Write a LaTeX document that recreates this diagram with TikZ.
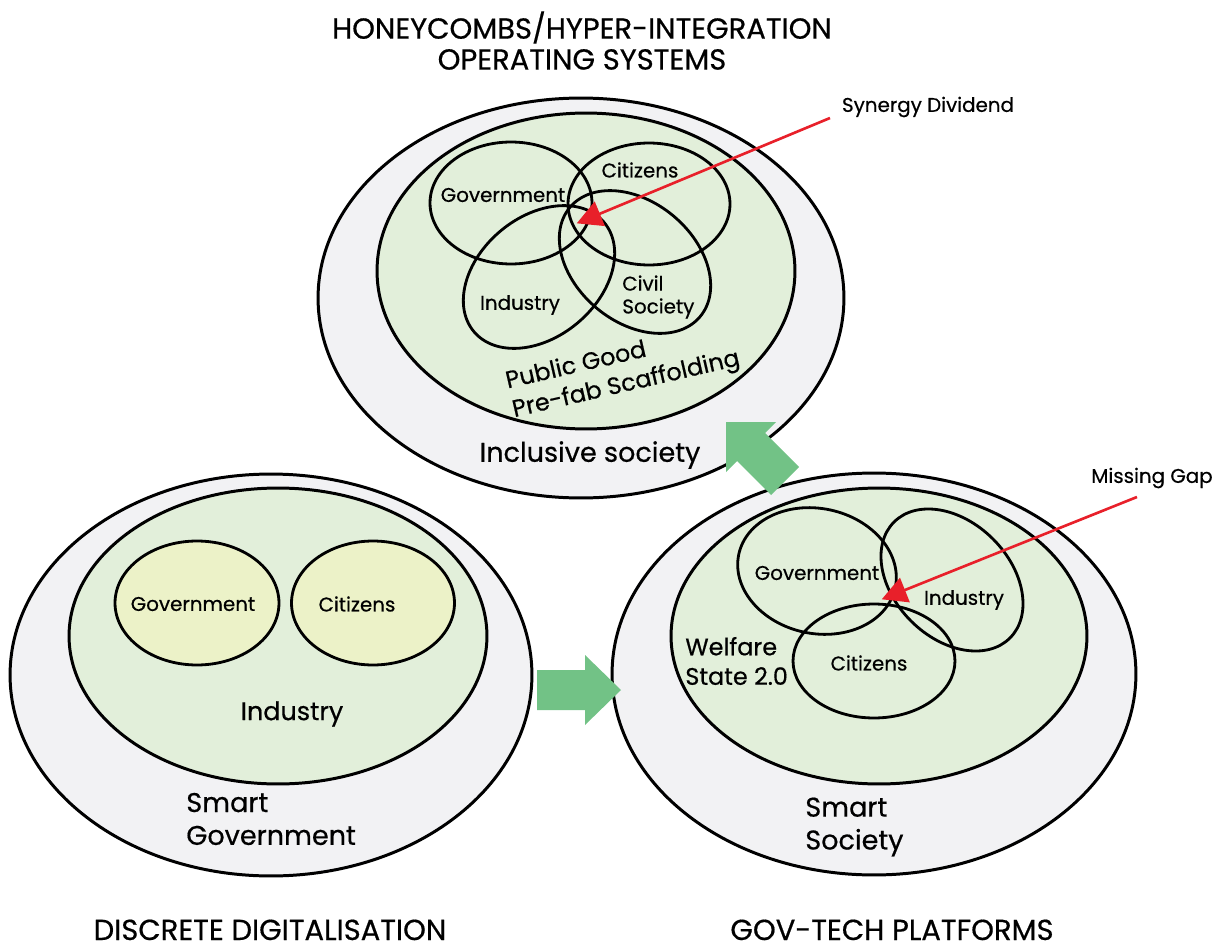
\documentclass[tikz,border=0pt]{standalone}
\usepackage{fontspec}
\setmainfont{Poppins}[FakeBold=0.5]
\usetikzlibrary{shapes.geometric,arrows.meta}
\definecolor{ringgray}{RGB}{242,242,244}
\definecolor{coregreen}{RGB}{226,239,218}
\definecolor{paleyellow}{RGB}{236,242,200}
\definecolor{flowgreen}{RGB}{114,194,134}
\definecolor{pointred}{RGB}{232,32,42}
\newcommand{\fs}[2]{\fontsize{#1}{#2}\selectfont}
\tikzset{
  ring/.style={ellipse, draw, line width=1.7pt, fill=ringgray, inner sep=0pt},
  core/.style={ellipse, draw, line width=1.7pt, fill=coregreen, inner sep=0pt},
  lobe/.style={ellipse, draw, line width=1.6pt, inner sep=0pt},
  heading/.style={font=\fs{16.5}{17.6}, align=center, inner sep=0pt},
  lbl/.style={font=\fs{11.3}{13}, inner sep=0pt},
  midlbl/.style={font=\fs{13.6}{16.8}, inner sep=0pt, align=left},
  biglbl/.style={font=\fs{15.4}{18.7}, inner sep=0pt, align=left},
  note/.style={font=\fs{11.3}{13}, inner sep=0pt},
  pointer/.style={draw=pointred, line width=1.5pt, -{Triangle[length=0.5cm,width=0.52cm]}, shorten >=-2pt},
  flow/.style={fill=flowgreen, draw=none}
}
\begin{document}
\begin{tikzpicture}[x=0.02cm,y=-0.02cm]
\useasboundingbox (0,0) rectangle (1225,943);

% ---------- top: honeycombs ----------
\node[ring, minimum width=10.52cm, minimum height=8.0cm] (topring) at (581,298) {};
\node[core, minimum width=8.36cm, minimum height=6.32cm] (topcore) at (586,271) {};
\node[lobe, minimum width=3.24cm, minimum height=2.44cm] (tgov) at (511,203) {};
\node[lobe, minimum width=3.24cm, minimum height=2.44cm] (tcit) at (649,204) {};
\node[lobe, minimum width=3.4cm, minimum height=2.4cm, rotate=40] (tind) at (539,277) {};
\node[lobe, minimum width=3.4cm, minimum height=2.4cm, rotate=-40] (tciv) at (635,262) {};
\node[lbl] (tgovt) at (503,195) {Government};
\node[lbl] (tcitt) at (640,170) {Citizens};
\node[lbl] (tindt) at (520,305) {Industry};
\node[lbl, align=left, anchor=west] (tcivt) at (622,297) {Civil\\Society};
\node[midlbl, rotate=13] (scaffold) at (623,371) {Public Good\\Pre-fab Scaffolding};
\node[biglbl] (inclusive) at (590,455) {Inclusive society};

% ---------- bottom left: discrete ----------
\node[ring, minimum width=10.44cm, minimum height=8.04cm] (blring) at (271,675) {};
\node[core, minimum width=8.36cm, minimum height=5.92cm] (blcore) at (278,636) {};
\node[lobe, fill=paleyellow, minimum width=3.28cm, minimum height=2.48cm] (bgov) at (197,603) {};
\node[lobe, fill=paleyellow, minimum width=3.26cm, minimum height=2.48cm] (bcit) at (373,603) {};
\node[lbl] (bgovt) at (193,604) {Government};
\node[lbl] (bcitt) at (357,604) {Citizens};
\node[font=\fs{14.5}{17}, inner sep=0pt] (bindt) at (292,714) {Industry};
\node[biglbl, anchor=west] (smartgov) at (186,819) {Smart\\Government};

% ---------- bottom right: gov-tech ----------
\node[ring, minimum width=10.48cm, minimum height=8.04cm] (brring) at (874,674) {};
\node[core, minimum width=8.32cm, minimum height=5.92cm] (brcore) at (879,636) {};
\node[lobe, minimum width=3.2cm, minimum height=2.5cm, rotate=-12] (rgov) at (817,571) {};
\node[lobe, minimum width=3.28cm, minimum height=2.32cm, rotate=-45] (rind) at (952,580) {};
\node[lobe, minimum width=3.24cm, minimum height=2.28cm] (rcit) at (874,661) {};
\node[lbl] (rgovt) at (817,573) {Government};
\node[lbl] (rindt) at (964,600) {Industry};
\node[lbl] (rcitt) at (869,663) {Citizens};
\node[midlbl, anchor=west] (welfare) at (685,661) {Welfare\\State 2.0};
\node[biglbl, anchor=west] (smartsoc) at (805,827) {Smart\\Society};

% ---------- block arrows between the stages ----------
\fill[flow] (537,670) -- (585,670) -- (585,655) -- (621,690) -- (585,725) -- (585,710) -- (537,710) -- cycle;
\fill[flow] (726,422) -- (776,422) -- (765,433) -- (799,467) -- (771,495) -- (737,461) -- (726,472) -- cycle;

% ---------- pointers ----------
\node[note] (synergy) at (928,107) {Synergy Dividend};
\coordinate (synstart) at (830,118);
\coordinate (synhit) at (580,222);
\draw[pointer] (synstart) -- (synhit);
\node[note] (missing) at (1152,478) {Missing Gap};
\coordinate (gapstart) at (1137,497);
\coordinate (gaphit) at (885,598);
\draw[pointer] (gapstart) -- (gaphit);

% ---------- headings ----------
\node[heading, anchor=north] (toptitle) at (582,11) {HONEYCOMBS/HYPER-INTEGRATION\\OPERATING SYSTEMS};
\node[heading, anchor=base] (lefttitle) at (270,940) {DISCRETE DIGITALISATION};
\node[heading, anchor=base] (righttitle) at (892,940) {GOV-TECH PLATFORMS};
\end{tikzpicture}
\end{document}
